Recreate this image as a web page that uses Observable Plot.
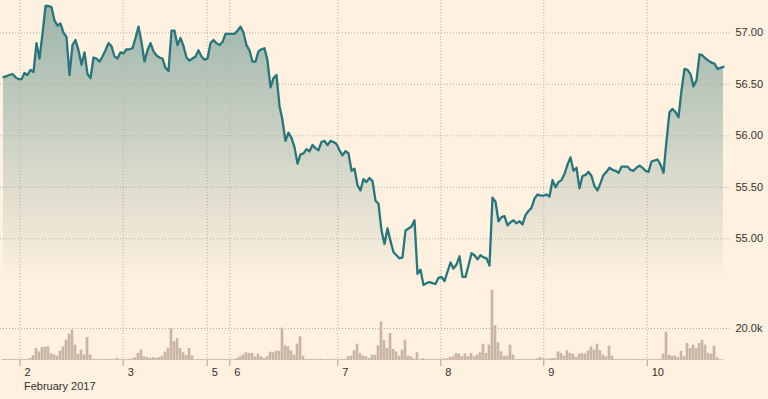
<!DOCTYPE html>
<html><head><meta charset="utf-8">
<script src="https://cdn.jsdelivr.net/npm/d3@7"></script>
<script src="https://cdn.jsdelivr.net/npm/@observablehq/plot@0.6"></script>
<style>
html,body{margin:0;padding:0;background:#fff1e0;}
#chart{position:relative;width:768px;height:399px;overflow:hidden;background:#fff1e0;}
#chart svg{position:absolute;left:0;top:0;}
</style></head><body><div id="chart"></div>
<script>
// Intraday price (one value per bar)
const price = [
56.57,56.58,56.59,56.60,56.57,56.55,56.55,56.61,56.59,56.64,
56.62,56.90,56.75,56.99,57.26,57.26,57.25,57.12,57.07,57.09,
57.00,56.96,56.59,56.88,56.93,56.83,56.69,56.81,56.60,56.56,
56.76,56.75,56.72,56.77,56.83,56.90,56.87,56.77,56.75,56.81,
56.80,56.84,56.84,56.85,56.95,57.06,56.91,56.72,56.83,56.90,
56.82,56.78,56.76,56.75,56.66,56.63,57.02,57.02,56.88,56.95,
56.87,56.76,56.73,56.75,56.77,56.83,56.77,56.74,56.75,56.90,
56.93,56.90,56.88,56.91,56.99,56.99,56.99,56.99,57.02,57.06,
57.00,56.88,56.83,56.72,56.72,56.82,56.84,56.85,56.73,56.47,
56.56,56.59,56.29,56.15,55.95,56.03,55.98,55.89,55.73,55.82,
55.83,55.87,55.85,55.91,55.88,55.86,55.94,55.95,55.91,55.95,
55.94,55.92,55.86,55.81,55.85,55.83,55.66,55.68,55.52,55.47,
55.58,55.55,55.59,55.56,55.37,55.34,55.08,54.95,55.10,54.98,
54.87,54.84,54.81,54.82,55.08,55.10,55.12,55.18,54.66,54.70,
54.55,54.57,54.58,54.57,54.56,54.62,54.63,54.59,54.68,54.77,
54.71,54.75,54.83,54.63,54.63,54.74,54.86,54.84,54.80,54.84,
54.82,54.81,54.74,55.40,55.36,55.17,55.21,55.22,55.13,55.16,
55.18,55.15,55.17,55.14,55.23,55.27,55.30,55.39,55.43,55.42,
55.42,55.43,55.41,55.57,55.50,55.55,55.57,55.63,55.72,55.79,
55.66,55.69,55.49,55.61,55.62,55.65,55.61,55.51,55.47,55.54,
55.62,55.65,55.69,55.67,55.66,55.64,55.70,55.70,55.70,55.67,
55.66,55.69,55.71,55.69,55.66,55.65,55.75,55.76,55.77,55.72,
55.64,55.95,56.23,56.26,56.23,56.18,56.44,56.65,56.64,56.60,
56.48,56.54,56.79,56.78,56.75,56.73,56.71,56.70,56.65,56.66,
56.67
];
// Volume per bar
const volume = [
600,600,600,600,600,600,600,600,600,1250,
3000,7500,5400,8100,8300,8500,4200,3500,2700,5800,
8500,12700,16500,19000,9600,3750,6500,3500,14200,3500,
800,600,600,600,600,600,600,600,1500,600,
600,600,600,1000,1700,4400,6500,2300,1900,1250,
1700,1500,1900,2700,5200,7700,20000,11700,13700,7500,
4800,3100,7500,2700,400,600,600,600,600,600,
600,600,600,600,600,600,600,600,1250,2300,
3500,4800,4400,4400,2300,4000,2300,1250,2300,5200,
4800,5800,5800,20200,9200,8500,6000,3300,10200,14800,
2700,600,600,600,600,600,800,600,600,600,
600,600,600,600,600,2300,2700,6000,10200,4400,
2700,2300,1250,3300,3300,9200,24100,12300,7500,16900,
6900,5400,2700,6500,12700,2700,2300,800,4800,600,
1250,600,600,600,600,600,600,1000,1000,1900,
2300,4400,4000,2300,4000,2300,4400,2300,3300,4800,
10200,4400,9600,43900,21700,11000,5400,2700,2700,9600,
3300,600,600,600,600,600,600,800,1000,1900,
1000,800,1000,1250,1250,5400,4400,2700,6000,4400,
4000,1900,4000,4400,4000,6000,8500,6500,10200,6000,
3300,2300,9000,2700,600,600,600,600,600,600,
600,600,600,600,600,600,600,600,600,800,
4000,17500,3300,2700,2700,1700,5800,2300,10600,7500,
9600,7500,10600,12700,9600,4400,4000,9000,1700,600,
300
];
// Day ticks (bar-index positions) and labels
const dayTicks = [5.5, 39.9, 67.9, 75.43, 111.43, 145.77, 180.1, 214.57];
const dayLabels = ["2","3","5","6","7","8","9","10"];
const priceTicks = [55, 55.5, 56, 56.5, 57];
const volumeTicks = [20000];
const monthLabel = ["February 2017"];

if (price.length !== volume.length) throw new Error("length mismatch " + price.length + " " + volume.length);

const data = price.map((p, i) => ({i, price: p, volume: volume[i]}));

const FONT = "'Liberation Sans', Arial, Helvetica, sans-serif";
const GRID = "#b8aea3";
const TEXT = "#33302e";
const common = {
  width: 768, height: 399,
  marginLeft: 0, marginRight: 38, marginTop: 0, marginBottom: 39,
  style: {fontFamily: FONT, fontSize: "11px", color: TEXT, background: "transparent"}
};
const xScale = {type: "linear", domain: [-1, 242.3333], label: null};

const plotA = Plot.plot({
  ...common,
  x: xScale,
  y: {domain: [53.8184, 57.3136], label: null},
  marks: [
    Plot.areaY(data, {x: "i", y1: 54.6, y2: "price", fill: "url(#priceFade)"}),
    Plot.gridX({ticks: dayTicks, stroke: GRID, strokeOpacity: 1, strokeDasharray: "1,2"}),
    Plot.gridY({ticks: priceTicks, stroke: GRID, strokeOpacity: 1, strokeDasharray: "1,2"}),
    Plot.lineY(data, {x: "i", y: "price", stroke: "#26767c", strokeWidth: 2.3, curve: "linear"}),
    Plot.axisY({anchor: "right", ticks: priceTicks, tickFormat: d3.format(".2f"), tickSize: 0, tickPadding: 5, label: null, fontSize: 11, fill: TEXT}),
    Plot.axisX({ticks: dayTicks, tickFormat: () => "", tickSize: 6, stroke: "#a8a098", label: null}),
    Plot.axisX({ticks: dayTicks, tickFormat: d => dayLabels[dayTicks.indexOf(d)], tickSize: 0, tickPadding: 8, textAnchor: "start", dx: 4.5, label: null, fontSize: 11, fill: TEXT}),
    Plot.text(monthLabel, {frameAnchor: "bottom-left", text: d => d, textAnchor: "start", lineAnchor: "top", dx: 23.5, dy: 22, fontSize: 11, fill: TEXT})
  ]
});

const defs = d3.select(plotA).insert("defs", ":first-child");
const grad = defs.append("linearGradient").attr("id", "priceFade")
  .attr("x1", 0).attr("x2", 0).attr("y1", 0).attr("y2", 1);
grad.append("stop").attr("offset", "0%").attr("stop-color", "#9db5ab");
grad.append("stop").attr("offset", "100%").attr("stop-color", "#fff1e0");

const plotB = Plot.plot({
  ...common,
  x: {...xScale, axis: null},
  y: {domain: [0, 225000], label: null},
  marks: [
    Plot.gridY({ticks: volumeTicks, stroke: GRID, strokeOpacity: 1, strokeDasharray: "1,2"}),
    Plot.rect(data, {x1: d => d.i - 0.45, x2: d => d.i + 0.45, y1: 0, y2: "volume", fill: "#c8b5a4"}),
    Plot.axisY({anchor: "right", ticks: volumeTicks, tickFormat: d => (d / 1000).toFixed(1) + "k", tickSize: 0, tickPadding: 5, label: null, fontSize: 11, fill: TEXT})
  ]
});

const chart = document.getElementById("chart");
chart.appendChild(plotA);
chart.appendChild(plotB);
</script>
</body></html>
